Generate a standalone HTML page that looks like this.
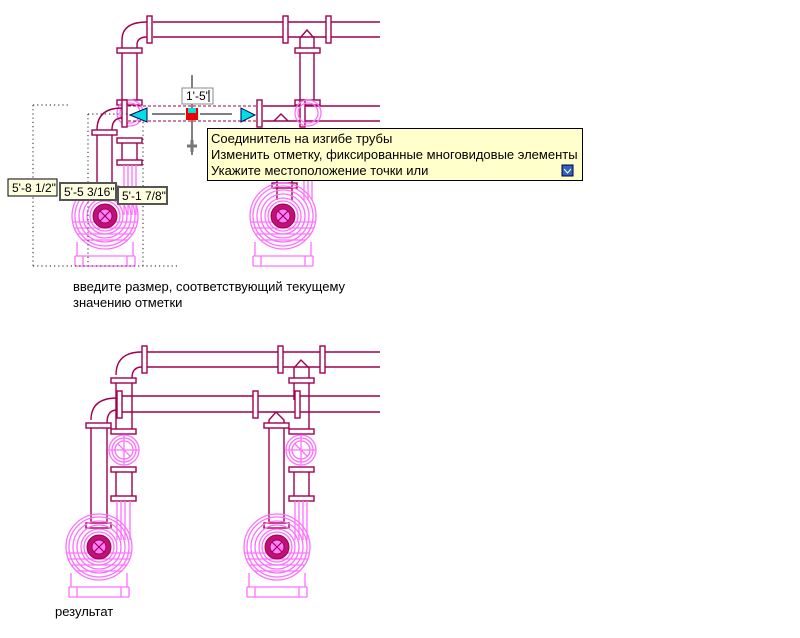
<!DOCTYPE html>
<html><head><meta charset="utf-8"><style>
html,body{margin:0;padding:0;background:#fff;width:800px;height:638px;overflow:hidden}
svg{display:block}
text{font-family:"Liberation Sans","DejaVu Sans",sans-serif;font-size:12px;fill:#000}
.t{font-size:13px}
.d{fill:none;stroke:#A0004F;stroke-width:1.4}
.df{fill:#fff;stroke:#A0004F;stroke-width:1.4}
.p{fill:none;stroke:#FF70FF;stroke-width:1.3}
.dot{fill:none;stroke:#444;stroke-width:1.2;stroke-dasharray:1.2 3}
</style></head><body>
<svg width="800" height="638" viewBox="0 0 800 638" xmlns="http://www.w3.org/2000/svg">
<defs>
<g id="pump">
 <circle class="p" r="33"/><circle class="p" r="30"/><circle class="p" r="26"/><circle class="p" r="22"/><circle class="p" r="18"/><circle class="p" r="15"/>
 <path class="p" d="M-33 6 H33 M-31 12 H31 M-28 18 H28 M-23 24 H23"/>
 <circle r="12" fill="#C0107A" stroke="#A0004F"/>
 <circle r="7" fill="#FF7FFF" stroke="#A0004F"/>
 <path d="M-5 -5 L5 5 M5 -5 L-5 5" stroke="#A0004F" stroke-width="1.2"/>
 <path class="p" d="M-28 26 V40 H28 V26 M-22 40 V50 M22 40 V50 M-30 40 H30 M-30 50 H30 M-30 40 V50 M30 40 V50"/>
</g>
<g id="valve">
 <circle class="p" r="15"/><circle class="p" r="12"/><circle class="p" r="9"/>
 <path class="p" d="M-15 0 H15 M0 -15 V15 M-6 -6 L6 6"/>
</g>
</defs>

<!-- ===== TOP DIAGRAM ===== -->
<path class="d" d="M153 22 H380 M153 37 H380"/>
<rect class="df" x="147" y="16" width="5" height="27"/>
<rect class="df" x="283" y="16" width="5" height="27"/>
<rect class="df" x="326" y="16" width="5" height="27"/>
<path class="d" d="M147 22 Q122 22 122 40 M147 37 Q137 37 137 45"/>
<path class="d" d="M122 40 V100 M137 45 V100"/>
<rect class="df" x="117" y="48" width="25" height="5"/>
<rect class="df" x="117" y="100" width="25" height="5"/>
<path class="d" d="M300 100 V38 L307 30 L314 38 V100"/>
<rect class="df" x="295" y="48" width="25" height="5"/>
<rect class="df" x="295" y="100" width="25" height="5"/>
<path class="d" d="M263 106 H380 M263 121 H380"/>
<rect class="df" x="257" y="100" width="5" height="27"/>
<rect class="df" x="300" y="100" width="5" height="27"/>
<path class="d" d="M274 121 L281 114 L288 121"/>
<circle class="p" cx="130" cy="113" r="13"/><circle class="p" cx="130" cy="113" r="10"/>
<circle class="p" cx="308" cy="113" r="13"/><circle class="p" cx="308" cy="113" r="10"/>
<path d="M128 106 H258 M128 121 H258" stroke="#A0004F" stroke-dasharray="3 2" fill="none"/>
<rect class="df" x="122" y="100" width="5" height="27"/>
<path class="d" d="M122 108 Q97 108 97 130 M122 118 Q112 118 112 130"/>
<rect class="df" x="92" y="130" width="25" height="5"/>
<path class="d" d="M97 135 V200 M112 135 V200"/>
<rect class="df" x="117" y="138" width="25" height="5"/>
<path class="d" d="M122 143 V163 M137 143 V163"/>
<rect class="df" x="117" y="160" width="25" height="5"/>
<path class="p" d="M124 165 V215 M128 165 V215 M132 165 V215 M136 165 V215"/>
<path class="p" d="M304 165 V200 M308 165 V200 M312 165 V200"/>
<rect class="df" x="272" y="183" width="25" height="5"/>
<path class="d" d="M277 180 V200 M292 180 V200"/>
<use href="#pump" x="105" y="216"/>
<use href="#pump" x="283" y="216"/>
<path d="M130 115 L147 108 L147 122 Z" fill="#00E0E0" stroke="#006"/>
<path d="M255 115 L241 108 L241 122 Z" fill="#00E0E0" stroke="#006"/>
<path d="M152 114 H185 M200 114 H232 M192 75 V155" stroke="#000" fill="none"/>
<rect x="186" y="108" width="12" height="12" fill="#e00"/>
<rect x="188" y="108" width="8" height="5" fill="#00E0E0"/>
<path d="M192 140 V152 M187 146 H197" stroke="#777" stroke-width="3"/>
<rect x="182" y="88" width="31" height="16" fill="#fff" stroke="#888"/>
<text x="186" y="100">1'-5"</text><path d="M209 90 V102" stroke="#000"/>
<path class="dot" d="M33 105 V266 M33 105 H70 M88 114 H130 M88 114 V266 M143 122 V266 M33 266 H180"/>
<rect x="8" y="179" width="49" height="17" fill="#FFFFE1" stroke="#000"/>
<text x="12" y="192">5'-8 1/2"</text>
<rect x="60" y="183" width="56" height="17" fill="#FFFFE1" stroke="#555" stroke-width="2"/>
<text x="64" y="196">5'-5 3/16"</text>
<rect x="118" y="187" width="49" height="17" fill="#FFFFE1" stroke="#555" stroke-width="2"/>
<text x="122" y="200">5'-1 7/8"</text>
<rect x="207.5" y="128.5" width="375" height="52" fill="#FFFFCC" stroke="#000"/>
<text class="t" x="211" y="143">Соединитель на изгибе трубы</text>
<text class="t" x="211" y="159">Изменить отметку, фиксированные многовидовые элементы</text>
<text class="t" x="211" y="175">Укажите местоположение точки или</text>
<rect x="562" y="165" width="11" height="11" fill="#3060C0" stroke="#003"/>
<path d="M564 169 L567.5 173 L571 169" stroke="#fff" fill="none"/>
<text class="t" x="73" y="291">введите размер, соответствующий текущему</text>
<text class="t" x="73" y="307">значению отметки</text>

<!-- ===== BOTTOM DIAGRAM ===== -->
<path class="d" d="M147 352 H380 M147 367 H380"/>
<rect class="df" x="142" y="346" width="5" height="27"/>
<rect class="df" x="278" y="346" width="5" height="27"/>
<rect class="df" x="320" y="346" width="5" height="27"/>
<path class="d" d="M142 352 Q116 352 116 375 M142 367 Q132 367 132 378"/>
<rect class="df" x="111" y="378" width="25" height="5"/>
<path class="d" d="M116 383 V430 M132 383 V430"/>
<path class="d" d="M122 396 H380 M122 412 H380"/>
<rect class="df" x="117" y="391" width="5" height="27"/>
<rect class="df" x="253" y="391" width="5" height="27"/>
<rect class="df" x="295" y="391" width="5" height="27"/>
<path class="d" d="M117 398 Q91 398 91 420 M117 410 Q107 410 107 423"/>
<rect class="df" x="86" y="423" width="25" height="5"/>
<path class="d" d="M91 428 V524 M107 428 V524"/>
<rect class="df" x="86" y="523" width="25" height="5"/>
<rect class="df" x="111" y="429" width="25" height="5"/>
<use href="#valve" x="124" y="450"/>
<rect class="df" x="111" y="467" width="25" height="5"/>
<path class="d" d="M116 472 V498 M132 472 V498"/>
<rect class="df" x="111" y="496" width="25" height="5"/>
<path class="p" d="M117 501 V540 M121 501 V540 M125 501 V540 M130 501 V540"/>
<path class="d" d="M294 400 V368 L301 360 L309 368 V430"/>
<rect class="df" x="289" y="378" width="25" height="5"/>
<rect class="df" x="289" y="429" width="25" height="5"/>
<use href="#valve" x="301" y="450"/>
<rect class="df" x="289" y="467" width="25" height="5"/>
<path class="d" d="M294 472 V498 M309 472 V498"/>
<rect class="df" x="289" y="496" width="25" height="5"/>
<path class="p" d="M295 501 V540 M299 501 V540 M303 501 V540 M307 501 V540"/>
<path class="d" d="M269 524 V420 L276 412 L284 420 V524"/>
<rect class="df" x="264" y="423" width="25" height="5"/>
<rect class="df" x="264" y="523" width="25" height="5"/>
<use href="#pump" x="99" y="547"/>
<use href="#pump" x="277" y="547"/>
<text class="t" x="55" y="616">результат</text>
</svg>
</body></html>
